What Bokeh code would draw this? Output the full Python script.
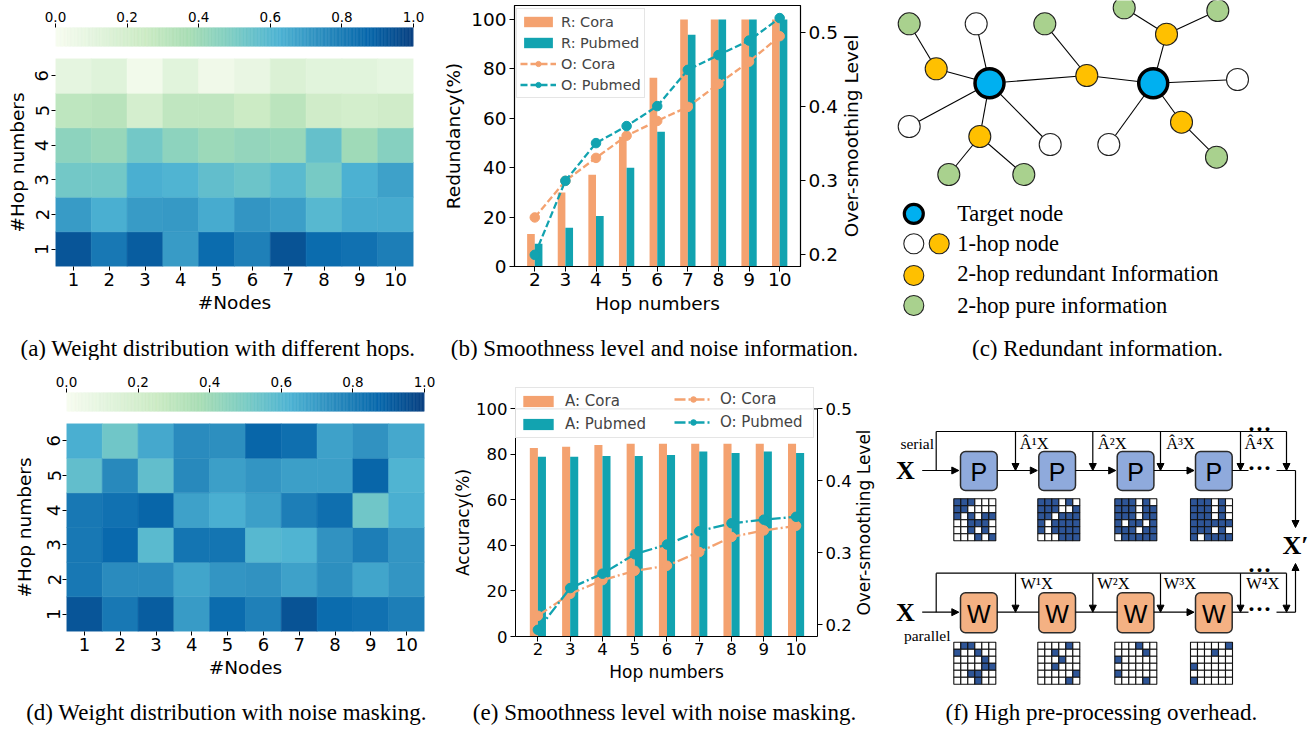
import math
import numpy as np
from bokeh.plotting import figure
from bokeh.layouts import column, row
from bokeh.models import (LinearAxis, Range1d, Legend, LegendItem, FixedTicker, Span,
                          ColumnDataSource, NumeralTickFormatter, Arrow, NormalHead)
from bokeh.transform import dodge, linear_cmap
from bokeh.core.properties import value
from bokeh.embed import file_html
from bokeh.resources import INLINE

# ---------------- data ----------------
node_ticks = [1, 2, 3, 4, 5, 6, 7, 8, 9, 10]
hop_rows = [1, 2, 3, 4, 5, 6]
cbar_ticks = [0.0, 0.2, 0.4, 0.6, 0.8, 1.0]

# rows: hop 1 .. hop 6, columns: node 1 .. node 10
heat_a = [
    [0.93, 0.82, 0.91, 0.70, 0.86, 0.79, 0.94, 0.86, 0.84, 0.80],
    [0.70, 0.64, 0.70, 0.71, 0.65, 0.72, 0.69, 0.60, 0.65, 0.65],
    [0.52, 0.52, 0.64, 0.62, 0.57, 0.54, 0.59, 0.51, 0.63, 0.68],
    [0.45, 0.42, 0.52, 0.45, 0.41, 0.43, 0.42, 0.56, 0.40, 0.47],
    [0.30, 0.32, 0.20, 0.29, 0.29, 0.25, 0.31, 0.23, 0.21, 0.23],
    [0.10, 0.13, 0.03, 0.12, 0.04, 0.08, 0.16, 0.12, 0.12, 0.09],
]
heat_d = [
    [0.93, 0.82, 0.91, 0.70, 0.86, 0.79, 0.94, 0.86, 0.84, 0.80],
    [0.82, 0.75, 0.75, 0.67, 0.72, 0.73, 0.68, 0.74, 0.67, 0.72],
    [0.82, 0.87, 0.59, 0.83, 0.83, 0.60, 0.62, 0.73, 0.80, 0.72],
    [0.82, 0.84, 0.88, 0.68, 0.64, 0.69, 0.80, 0.85, 0.53, 0.64],
    [0.57, 0.76, 0.57, 0.76, 0.69, 0.72, 0.69, 0.69, 0.88, 0.62],
    [0.64, 0.53, 0.66, 0.75, 0.74, 0.88, 0.85, 0.68, 0.73, 0.66],
]

hop_numbers = [2, 3, 4, 5, 6, 7, 8, 9, 10]
redundancy_cora = [13.2, 30.0, 37.2, 52.5, 76.4, 100, 100, 100, 100]
redundancy_pubmed = [9.2, 15.7, 20.5, 40.0, 54.6, 93.9, 100, 100, 100]
oversmooth_cora_b = [0.2505, 0.300, 0.331, 0.361, 0.381, 0.400, 0.431, 0.461, 0.4955]
oversmooth_pubmed_b = [0.200, 0.300, 0.351, 0.374, 0.401, 0.450, 0.470, 0.4896, 0.520]
left_ticks = [0, 20, 40, 60, 80, 100]
right_ticks = [0.2, 0.3, 0.4, 0.5]

accuracy_cora = [82.8, 83.3, 84.1, 84.6, 84.6, 84.6, 84.6, 84.6, 84.6]
accuracy_pubmed = [78.9, 78.9, 79.3, 79.3, 79.7, 81.2, 80.6, 81.2, 80.6]
oversmooth_cora_e = [0.2125, 0.243, 0.262, 0.275, 0.282, 0.301, 0.322, 0.331, 0.3375]
oversmooth_pubmed_e = [0.193, 0.251, 0.271, 0.298, 0.3115, 0.330, 0.341, 0.346, 0.350]

# panel (c) graph diagram
graph_x = [989, 1152.7, 908.7, 1044.3, 1123.7, 1217.3, 948.3, 1023.3, 1216, 935.7, 1086.3, 1166,
           979.3, 1181, 975.7, 908.7, 1049.7, 1237, 1108.3]
graph_y = [82.7, 82.7, 23.3, 23.3, 7.3, 10, 174, 174, 156.7, 68.3, 75, 33.7, 136, 121.7, 23.3,
           126, 144, 79, 144]
graph_kind = ["target", "target", "green", "green", "green", "green", "green", "green", "green",
              "orange", "orange", "orange", "orange", "orange", "white", "white", "white", "white", "white"]
graph_edges = [(0, 9), (9, 2), (0, 14), (0, 15), (0, 12), (12, 6), (12, 7), (0, 16), (0, 10), (10, 3),
               (10, 1), (1, 11), (11, 4), (11, 5), (1, 17), (1, 18), (1, 13), (13, 8)]
legend_c_marks_x = [913.3, 913.3, 938.7, 913.3, 913.3]
legend_c_marks_y = [213.3, 243.3, 243.3, 275, 305]
legend_c_marks_kind = ["target", "white", "orange", "orange", "green"]
legend_c_labels = ["Target node", "1-hop node", "2-hop redundant Information", "2-hop pure information"]
legend_c_label_y = [213, 243, 273, 305]

# panel (f) adjacency grids (1 = filled)
serial_grids = [
    [[1, 1, 1, 0, 0, 0], [1, 1, 0, 0, 0, 0], [1, 0, 1, 0, 1, 1], [0, 0, 1, 1, 1, 0], [0, 0, 1, 0, 1, 0], [0, 0, 0, 1, 0, 1]],
    [[1, 1, 1, 0, 1, 0], [1, 1, 1, 0, 0, 1], [1, 1, 0, 1, 1, 1], [1, 0, 1, 1, 1, 1], [1, 0, 1, 1, 1, 1], [0, 0, 0, 1, 1, 1]],
    [[1, 1, 1, 0, 1, 0], [1, 1, 1, 0, 1, 1], [1, 1, 1, 0, 1, 1], [1, 0, 1, 1, 0, 1], [1, 1, 1, 0, 1, 1], [0, 1, 1, 1, 1, 1]],
    [[1, 1, 1, 0, 1, 0], [1, 1, 1, 0, 1, 0], [1, 1, 1, 0, 1, 0], [1, 1, 1, 1, 1, 1], [1, 1, 1, 0, 1, 0], [1, 0, 1, 1, 1, 1]],
]
parallel_grids = [
    [[0, 1, 1, 0, 0, 0], [1, 0, 0, 1, 0, 0], [0, 0, 0, 0, 1, 0], [0, 0, 0, 0, 1, 1], [0, 0, 1, 1, 0, 0], [0, 0, 0, 1, 0, 0]],
    [[0, 0, 0, 0, 1, 0], [0, 0, 1, 0, 0, 0], [0, 0, 0, 1, 0, 0], [0, 0, 1, 0, 0, 0], [0, 0, 0, 0, 0, 1], [0, 0, 0, 0, 1, 0]],
    [[0, 0, 0, 1, 0, 0], [0, 0, 0, 0, 1, 0], [1, 0, 0, 0, 0, 0], [0, 0, 0, 0, 0, 0], [1, 0, 0, 0, 0, 0], [0, 0, 0, 0, 1, 0]],
    [[0, 0, 0, 0, 0, 1], [0, 0, 0, 1, 0, 0], [0, 0, 0, 0, 0, 0], [1, 0, 0, 0, 0, 0], [0, 0, 0, 0, 0, 0], [1, 0, 0, 0, 0, 0]],
]
serial_labels = ["\u00C2\u00B9X", "\u00C2\u00B2X", "\u00C2\u00B3X", "\u00C2\u2074X"]
parallel_labels = ["W\u00B9X", "W\u00B2X", "W\u00B3X", "W\u2074X"]

captions = [
    "(a) Weight distribution with different hops.",
    "(b) Smoothness level and noise information.",
    "(c) Redundant information.",
    "(d) Weight distribution with noise masking.",
    "(e) Smoothness level with noise masking.",
    "(f) High pre-processing overhead.",
]

# ---------------- styles ----------------
FONT = "DejaVu Sans"
SERIF = "Liberation Serif"
ORANGE = "#F4A270"
TEAL = "#12A3B0"
gnbu_stops = ["#f7fcf0", "#e0f3db", "#ccebc5", "#a8ddb5", "#7bccc4",
              "#4eb3d3", "#2b8cbe", "#0868ac", "#084081"]


def interp_palette(stops, n):
    rgb = np.array([[int(h[i:i + 2], 16) for i in (1, 3, 5)] for h in stops], float)
    pos = np.linspace(0, 1, len(stops))
    t = np.linspace(0, 1, n)
    out = np.stack([np.interp(t, pos, rgb[:, k]) for k in range(3)], 1)
    return ["#%02x%02x%02x" % tuple(int(round(v)) for v in c) for c in out]


PAL = interp_palette(gnbu_stops, 256)


def base_fig(**kw):
    f = figure(toolbar_location=None, output_backend="svg", **kw)
    f.xgrid.visible = False
    f.ygrid.visible = False
    f.background_fill_color = "white"
    f.border_fill_color = "white"
    return f


def blank_fig(W, H, xr, yr, **kw):
    kw.setdefault("min_border", 0)
    f = base_fig(width=W, height=H, x_range=Range1d(*xr), y_range=Range1d(*yr),
                 x_axis_location=None, y_axis_location=None, **kw)
    f.outline_line_color = None
    return f


def style_axis(ax, tick_size, label_size):
    ax.major_label_text_font = FONT
    ax.major_label_text_font_size = tick_size
    ax.major_label_text_color = "black"
    ax.axis_label_text_font = FONT
    ax.axis_label_text_font_size = label_size
    ax.axis_label_text_font_style = "normal"
    ax.axis_label_text_color = "black"
    ax.minor_tick_line_color = None
    ax.major_tick_out = 5
    ax.major_tick_in = 0
    ax.major_tick_line_color = "black"
    ax.axis_line_color = "black"


def caption_fig(text, W, H, cx, cy):
    f = blank_fig(W, H, (0, W), (H, 0))
    f.text(x=[cx], y=[cy], text=[text], text_font=value(SERIF), text_font_size="23px",
           text_align="center", text_baseline="middle", text_color="black")
    return f


def label_strip(text, W, H, top, bottom, x, y_from_frame_bottom, size):
    fh = H - top - bottom
    f = blank_fig(W, H, (0, W), (0, fh), min_border_top=top, min_border_bottom=bottom,
                  min_border_left=0, min_border_right=0)
    f.text(x=[x], y=[y_from_frame_bottom], text=[text], angle=math.pi / 2,
           text_font=value(FONT), text_font_size=size, text_align="center",
           text_baseline="middle", text_color="black")
    return f


def heat_panel(vals, W, left, right, cb_h, cb_top, cb_bottom, hm_h, hm_top, hm_bottom,
               ylab_standoff, ytick_standoff):
    cb = base_fig(width=W, height=cb_h, x_range=Range1d(0, 1), y_range=Range1d(0, 1),
                  x_axis_location="above", y_axis_location=None,
                  min_border_left=left, min_border_right=right,
                  min_border_top=cb_top, min_border_bottom=cb_bottom)
    cb.outline_line_color = None
    edges = np.linspace(0, 1, len(PAL) + 1)
    cb.quad(left=edges[:-1], right=edges[1:], bottom=0, top=1, fill_color=PAL,
            line_color=PAL, line_width=0.6)
    cb.xaxis.ticker = FixedTicker(ticks=cbar_ticks)
    cb.xaxis.formatter = NumeralTickFormatter(format="0.0")
    style_axis(cb.xaxis[0], "13.5px", "13px")
    cb.xaxis.axis_line_color = None
    cb.xaxis.major_tick_out = 4
    cb.xaxis.major_label_standoff = 2

    xs, ys, vs = [], [], []
    for i, hop in enumerate(hop_rows):
        for j, nd in enumerate(node_ticks):
            xs.append(nd)
            ys.append(hop)
            vs.append(vals[i][j])
    src = ColumnDataSource(dict(x=xs, y=ys, v=vs))
    hm = base_fig(width=W, height=hm_h, x_range=Range1d(0.5, 10.5), y_range=Range1d(0.5, 6.5),
                  min_border_left=left, min_border_right=right,
                  min_border_top=hm_top, min_border_bottom=hm_bottom)
    hm.outline_line_color = None
    hm.rect(x="x", y="y", width=1, height=1, source=src, fill_color=linear_cmap("v", PAL, 0, 1),
            line_color=linear_cmap("v", PAL, 0, 1), line_width=0.6)
    hm.xaxis.ticker = FixedTicker(ticks=node_ticks)
    hm.yaxis.ticker = FixedTicker(ticks=hop_rows)
    hm.xaxis.axis_label = "#Nodes"
    hm.yaxis.axis_label = "#Hop numbers"
    for ax in (hm.xaxis[0], hm.yaxis[0]):
        style_axis(ax, "18px", "18.5px")
        ax.axis_line_color = None
        ax.major_tick_out = 4
        ax.major_label_standoff = 2
        ax.axis_label_standoff = 2
    hm.xaxis.major_label_standoff = 2
    hm.xaxis.axis_label_standoff = 3
    hm.yaxis.major_label_orientation = "vertical"
    hm.yaxis.major_label_standoff = ytick_standoff
    hm.yaxis.axis_label_standoff = ylab_standoff
    return column(cb, hm, spacing=0)


def bar_line_fig(W, H, xr, yr, yr2, borders, bars, lines, ylabel, dash, tick_size, label_size):
    src = ColumnDataSource(dict(hop=hop_numbers, b1=bars[0], b2=bars[1], o1=lines[0], o2=lines[1]))
    p = base_fig(width=W, height=H, x_range=Range1d(*xr), y_range=Range1d(*yr),
                 min_border_left=borders[0], min_border_right=borders[1],
                 min_border_top=borders[2], min_border_bottom=borders[3])
    p.extra_y_ranges = {"os": Range1d(*yr2)}
    p.outline_line_color = "black"
    p.outline_line_width = 1.2
    p.outline_line_alpha = 1.0
    r1 = p.vbar(x=dodge("hop", -0.125, range=p.x_range), top="b1", width=0.25, source=src,
                fill_color=ORANGE, line_color=None)
    r2 = p.vbar(x=dodge("hop", 0.125, range=p.x_range), top="b2", width=0.25, source=src,
                fill_color=TEAL, line_color=None)
    l1 = p.line("hop", "o1", source=src, y_range_name="os", line_color=ORANGE, line_width=2.3,
                line_dash=dash)
    s1 = p.scatter("hop", "o1", source=src, y_range_name="os", size=9.5, fill_color=ORANGE,
                   line_color=ORANGE)
    l2 = p.line("hop", "o2", source=src, y_range_name="os", line_color=TEAL, line_width=2.3,
                line_dash=dash)
    s2 = p.scatter("hop", "o2", source=src, y_range_name="os", size=9.5, fill_color=TEAL,
                   line_color=TEAL)
    p.xaxis.ticker = FixedTicker(ticks=hop_numbers)
    p.yaxis.ticker = FixedTicker(ticks=left_ticks)
    p.xaxis.axis_label = "Hop numbers"
    if ylabel:
        p.yaxis.axis_label = ylabel
    ax_r = LinearAxis(y_range_name="os", ticker=FixedTicker(ticks=right_ticks))
    p.add_layout(ax_r, "right")
    for ax in (p.xaxis[0], p.yaxis[0], ax_r):
        style_axis(ax, tick_size, label_size)
        ax.major_label_standoff = 3
        ax.axis_label_standoff = 4
    p.xaxis.major_label_standoff = 1
    return p, ax_r, (r1, r2, l1, s1, l2, s2)


# ---------------- panel (a) ----------------
top_a = heat_panel(heat_a, 440, 55, 27, 48, 27, 2, 282, 10, 64, 5, 3)

# ---------------- panel (b) ----------------
pb, axr_b, rb = bar_line_fig(400, 330, (1.3376, 10.68), (0, 105.7), (0.1842, 0.537), (70, 38, 5, 64),
                             (redundancy_cora, redundancy_pubmed),
                             (oversmooth_cora_b, oversmooth_pubmed_b),
                             "Redundancy(%)", "7 3", "18.5px", "18.5px")
leg_b = Legend(items=[LegendItem(label="R: Cora", renderers=[rb[0]]),
                      LegendItem(label="R: Pubmed", renderers=[rb[1]]),
                      LegendItem(label="O: Cora", renderers=[rb[2], rb[3]]),
                      LegendItem(label="O: Pubmed", renderers=[rb[4], rb[5]])],
               location=(2, 168), padding=3, spacing=2, glyph_width=36, glyph_height=13,
               label_height=19, label_standoff=5, label_text_font=FONT, label_text_font_size="14.5px",
               border_line_color="#cccccc", border_line_width=1, background_fill_alpha=0.85)
pb.add_layout(leg_b)
strip_b = label_strip("Over-smoothing Level", 40, 330, 5, 64, 10.5, 130.5, "18.5px")
top_b = row(pb, strip_b, spacing=0)

# ---------------- panel (c) ----------------
COLORS = {"target": "#00B0F0", "green": "#A9D18E", "orange": "#FFC000", "white": "#FFFFFF"}
pc = blank_fig(435, 330, (880, 1315), (330, 0))
pc.segment(x0=[graph_x[a] for a, b in graph_edges], y0=[graph_y[a] for a, b in graph_edges],
           x1=[graph_x[b] for a, b in graph_edges], y1=[graph_y[b] for a, b in graph_edges],
           line_color="black", line_width=1.1)
for kind in ["white", "orange", "green"]:
    idx = [i for i, k in enumerate(graph_kind) if k == kind]
    pc.scatter([graph_x[i] for i in idx], [graph_y[i] for i in idx], size=22,
               fill_color=COLORS[kind], line_color="#222222", line_width=1.1)
idx = [i for i, k in enumerate(graph_kind) if k == "target"]
pc.scatter([graph_x[i] for i in idx], [graph_y[i] for i in idx], size=29,
           fill_color=COLORS["target"], line_color="black", line_width=3.5)
for kind in ["white", "orange", "green"]:
    idx = [i for i, k in enumerate(legend_c_marks_kind) if k == kind]
    pc.scatter([legend_c_marks_x[i] for i in idx], [legend_c_marks_y[i] for i in idx], size=20,
               fill_color=COLORS[kind], line_color="#222222", line_width=1.1)
idx = [i for i, k in enumerate(legend_c_marks_kind) if k == "target"]
pc.scatter([legend_c_marks_x[i] for i in idx], [legend_c_marks_y[i] for i in idx], size=19,
           fill_color=COLORS["target"], line_color="black", line_width=3.2)
pc.text(x=[956.7] * 4, y=legend_c_label_y, text=legend_c_labels, text_font=value(SERIF),
        text_font_size="22.5px", text_align="left", text_baseline="middle", text_color="black")

# ---------------- panel (d) ----------------
top_d = heat_panel(heat_d, 440, 66, 16, 53, 32, 2, 278, 10, 60, 10, 2)

# ---------------- panel (e) ----------------
pe, axr_e, re_ = bar_line_fig(381, 331, (1.306, 10.664), (0, 110.67), (0.18375, 0.53375),
                              (40, 35, 24, 55),
                              (accuracy_cora, accuracy_pubmed),
                              (oversmooth_cora_e, oversmooth_pubmed_e),
                              None, "11 3 2 3", "16.5px", "17px")
pe.outline_line_color = None
pe.yaxis.bounds = (0, 100)
axr_e.bounds = (0.18375, 0.5)
pe.add_layout(Span(location=100, dimension="width", line_color="black", line_width=1.2))
leg_kw = dict(padding=3, spacing=3, glyph_width=38, glyph_height=14, label_height=20,
              label_standoff=8, label_text_font=FONT, label_text_font_size="15px")
leg_e1 = Legend(items=[LegendItem(label="A: Cora", renderers=[re_[0]]),
                       LegendItem(label="A: Pubmed", renderers=[re_[1]])],
                location=(0, 198), label_width=245, border_line_color="#cccccc",
                border_line_width=1, background_fill_alpha=0.9, **leg_kw)
leg_e2 = Legend(items=[LegendItem(label="O: Cora", renderers=[re_[2], re_[3]]),
                       LegendItem(label="O: Pubmed", renderers=[re_[4], re_[5]])],
                location=(159, 204), border_line_color=None, background_fill_alpha=0.0, **leg_kw)
pe.add_layout(leg_e1)
pe.add_layout(leg_e2)
strip_e_left = label_strip("Accuracy(%)", 33, 331, 24, 55, 22.7, 114, "17px")
strip_e_right = label_strip("Over-smoothing Level", 26, 331, 24, 55, 9.5, 114, "17px")
top_e = row(strip_e_left, pe, strip_e_right, spacing=0)

# ---------------- panel (f) ----------------
pf = blank_fig(435, 331, (880, 1315), (691, 360))
box_left = [960, 1038.3, 1116.7, 1195]
box_w = 36.7
grid_left = [953.3, 1037.3, 1114.3, 1190]
cell = 7
arrow_x = [1015, 1092.3, 1160, 1240]


def add_arrow(x0, y0, x1, y1):
    pf.add_layout(Arrow(end=NormalHead(size=7, fill_color="black", line_color="black"),
                        x_start=x0, y_start=y0, x_end=x1, y_end=y1, line_width=1.2,
                        line_color="black"))


for (main_y, top_y, box_top, box_bot, fill, letter, labels, label_y, lab_dx, grids, grid_top,
     side_text, side_x, side_y, arrow_between) in [
        (470, 431, 451, 490, "#8FAADC", "P", serial_labels, 443.3, [4.3, 5, 5.7, 4], serial_grids, 498.3,
         "serial", 916.7, 443.3, [True, True, True]),
        (611.7, 572.7, 592.3, 632.3, "#F4B183", "W", parallel_labels, 583.3, [5, 4.4, 3.3, 5.7],
         parallel_grids, 641.7, "parallel", 926.7, 635, [False, False, True])]:
    add_arrow(921.7, main_y, 958.3, main_y)
    pf.segment(x0=[935.7, 935.7], y0=[main_y, top_y], x1=[935.7, 1286], y1=[top_y, top_y],
               line_color="black", line_width=1.2)
    bl = np.array(box_left)
    kw = dict(left=bl, right=bl + box_w, top=[box_top] * 4, bottom=[box_bot] * 4,
              fill_color=fill, line_color="#2b2b2b", line_width=1.5)
    try:
        pf.quad(border_radius=5, **kw)
    except Exception:
        pf.quad(**kw)
    pf.text(x=list(bl + box_w / 2), y=[(box_top + box_bot) / 2 + 1] * 4, text=[letter] * 4,
            text_font=value("Liberation Sans"), text_font_size="25px", text_align="center",
            text_baseline="middle", text_color="black")
    for i in range(3):
        if arrow_between[i]:
            add_arrow(box_left[i] + box_w, main_y, box_left[i + 1] - 1.5, main_y)
        else:
            pf.segment(x0=[box_left[i] + box_w], y0=[main_y], x1=[box_left[i + 1]], y1=[main_y],
                       line_color="black", line_width=1.2)
    for ax_, dx, lab in zip(arrow_x, lab_dx, labels):
        add_arrow(ax_, top_y, ax_, main_y)
        pf.text(x=[ax_ + dx], y=[label_y], text=[lab], text_font=value(SERIF),
                text_font_size="16.5px", text_align="left", text_baseline="middle",
                text_color="black")
    add_arrow(1286, top_y, 1286, main_y)
    pf.segment(x0=[box_left[3] + box_w, 1276], y0=[main_y, main_y], x1=[1248, 1295],
               y1=[main_y, main_y], line_color="black", line_width=1.2)
    pf.text(x=[1259, 1259], y=[main_y - 3, top_y - 3], text=["\u00B7\u00B7\u00B7"] * 2,
            text_font=value(SERIF), text_font_size="24px", text_font_style="bold",
            text_align="center", text_baseline="middle", text_color="black")
    pf.text(x=[905], y=[main_y], text=["X"], text_font=value(SERIF), text_font_size="26px",
            text_font_style="bold", text_align="center", text_baseline="middle", text_color="black")
    pf.text(x=[side_x], y=[side_y], text=[side_text], text_font=value(SERIF),
            text_font_size="15.5px", text_align="center", text_baseline="middle", text_color="black")
    cx, cy, cc = [], [], []
    for gl, g in zip(grid_left, grids):
        for r_ in range(6):
            for c_ in range(6):
                cx.append(gl + cell * c_ + cell / 2)
                cy.append(grid_top + cell * r_ + cell / 2)
                cc.append("#2E5597" if g[r_][c_] else "#FFFFFF")
    pf.rect(x=cx, y=cy, width=cell, height=cell, fill_color=cc, line_color="#111111",
            line_width=1.1)

add_arrow(1295, 470, 1295, 527)
add_arrow(1295, 611.7, 1295, 563)
pf.text(x=[1295], y=[545], text=["X\u2032"], text_font=value(SERIF), text_font_size="26px",
        text_font_style="bold", text_align="center", text_baseline="middle", text_color="black")

# ---------------- captions ----------------
cap_row1 = row(caption_fig(captions[0], 440, 30, 217.5, 18),
               caption_fig(captions[1], 440, 30, 214, 18),
               caption_fig(captions[2], 435, 30, 217, 18), spacing=0)
cap_row2 = row(caption_fig(captions[3], 440, 38, 226, 20.7),
               caption_fig(captions[4], 440, 38, 224, 20.7),
               caption_fig(captions[5], 435, 38, 220.8, 20.7), spacing=0)

layout = column(row(top_a, top_b, pc, spacing=0), cap_row1,
                row(top_d, top_e, pf, spacing=0), cap_row2, spacing=0)
open("out.html", "w").write(file_html(layout, INLINE, title="figure"))
